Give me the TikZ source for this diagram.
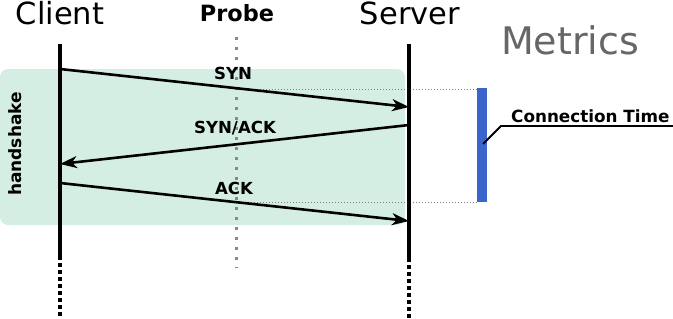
\documentclass[tikz,border=0pt]{standalone}
\usepackage{fontspec}
\setmainfont{DejaVu Sans}
\usetikzlibrary{arrows.meta}
\definecolor{mint}{HTML}{D5EEE4}
\definecolor{barblue}{HTML}{3A66CC}
\definecolor{probegray}{HTML}{888888}
\begin{document}
\begin{tikzpicture}[x=1pt,y=-1pt,
  lifeline/.style={line width=4pt},
  tailline/.style={line width=4pt,dash pattern=on 3.5pt off 3.5pt},
  msg/.style={line width=2.6pt,-{Stealth[length=17pt,width=12pt,inset=5pt]}},
  lbl/.style={font=\fontsize{16.6}{16.6}\selectfont\bfseries,inner sep=0pt},
  guide/.style={gray,line width=0.8pt,dash pattern=on 1pt off 2pt},
  title/.style={font=\fontsize{30.5}{30.5}\selectfont,inner sep=0pt}]
\useasboundingbox (0,0) rectangle (673,319);
% handshake region
\fill[mint,rounded corners=8pt] (0,69) rectangle (405,225);
\node[font=\fontsize{17}{17}\selectfont\bfseries,inner sep=0pt,rotate=90] (hs) at (15,144) {handshake};
% titles
\node[title] (client) at (60,13) {Client};
\node[title] (server) at (410,13) {Server};
\node[font=\fontsize{22.4}{22.4}\selectfont\bfseries,inner sep=0pt] (probe) at (237,13) {Probe};
\node[font=\fontsize{38}{38}\selectfont,text=black!60,inner sep=0pt] (metrics) at (570,40) {Metrics};
% coordinates
\coordinate (ctop) at (60,44);
\coordinate (cmid) at (60,260);
\coordinate (cbot) at (60,319);
\coordinate (stop) at (409,44);
\coordinate (smid) at (409,262);
\coordinate (sbot) at (409,319);
\coordinate (ptop) at (236,37);
\coordinate (pbot) at (236,268);
% probe line
\draw[probegray,line width=3pt,dash pattern=on 3pt off 7pt] (ptop) -- (pbot);
% guides
\coordinate (g1a) at (236,89);
\coordinate (g1b) at (477,89);
\coordinate (g2a) at (236,202);
\coordinate (g2b) at (477,202);
\draw[guide] (g1a) -- (g1b);
\draw[guide] (g2a) -- (g2b);
% lifelines
\draw[lifeline] (ctop) -- (cmid);
\draw[tailline] (cmid) ++(0,3) -- (cbot);
\draw[lifeline] (stop) -- (smid);
\draw[tailline] (smid) ++(0,3) -- (sbot);
% messages
\coordinate (m1a) at (60,69);
\coordinate (m1b) at (409,107);
\coordinate (m2a) at (409,125);
\coordinate (m2b) at (60,164);
\coordinate (m3a) at (60,183);
\coordinate (m3b) at (409,221);
\draw[msg] (m1a) -- (m1b);
\draw[msg] (m2a) -- (m2b);
\draw[msg] (m3a) -- (m3b);
\node[lbl] (syn) at (233,73) {SYN};
\node[lbl] (synack) at (235,128) {SYN/ACK};
\node[lbl] (ack) at (234,188) {ACK};
% metric bar
\fill[barblue] (477,88) rectangle (487,202);
\node[font=\fontsize{16.8}{16.8}\selectfont\bfseries,inner sep=0pt,anchor=south west] (ct) at (511,123) {Connection Time};
\coordinate (cbar) at (483,144);
\coordinate (celbow) at (501,126);
\coordinate (cend) at (673,126);
\draw[line width=1.8pt] (cbar) -- (celbow) -- (cend);
\end{tikzpicture}
\end{document}
